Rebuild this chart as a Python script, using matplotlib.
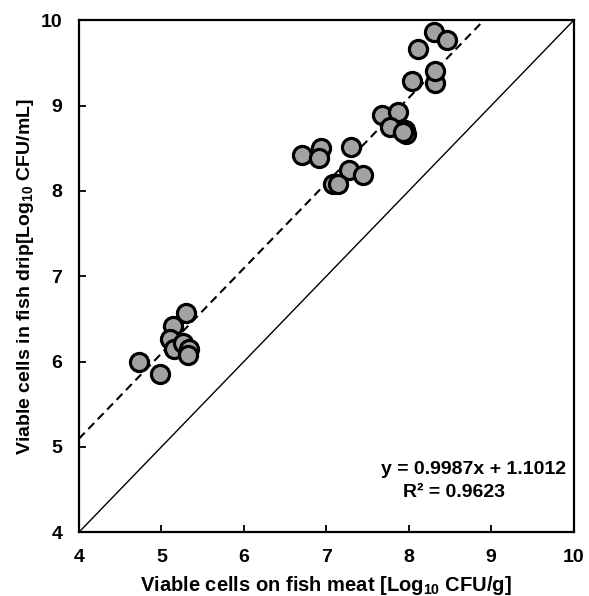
import numpy as np
import matplotlib.pyplot as plt

plt.rcParams['font.family'] = ['Liberation Sans', 'DejaVu Sans']
plt.rcParams['font.weight'] = 'bold'
plt.rcParams['mathtext.default'] = 'regular'

# meat counts (x) and drip counts (y), Log10 CFU
meat = [4.73, 4.98, 5.30, 5.14, 5.10, 5.15, 5.26, 5.34, 5.32,
        6.71, 6.94, 6.91, 7.30, 7.28, 7.44, 7.08, 7.14,
        7.67, 7.87, 7.77, 7.95, 7.97, 7.93,
        8.04, 8.32, 8.32, 8.31, 8.46, 8.11]
drip = [6.00, 5.85, 6.57, 6.42, 6.27, 6.15, 6.22, 6.15, 6.08,
        8.42, 8.50, 8.38, 8.51, 8.25, 8.19, 8.08, 8.08,
        8.89, 8.93, 8.75, 8.71, 8.67, 8.69,
        9.29, 9.26, 9.41, 9.86, 9.77, 9.66]

slope = 0.9987
intercept = 1.1012
r2 = 0.9623

fig = plt.figure(figsize=(5.89, 5.96), dpi=100)
ax = fig.add_axes([0.134, 0.107, 0.840, 0.859])

xx = np.array([4, (10 - intercept) / slope])
ax.plot(xx, slope * xx + intercept, 'k--', lw=1.5, dashes=(4, 2.5))
ax.plot([4, 10], [4, 10], 'k-', lw=1.0)
ax.scatter(meat, drip, s=170, c='#a2a2a2', edgecolors='black', linewidths=2.3, zorder=3)

ax.text(8.79, 4.73, 'y = 0.9987x + 1.1012', ha='center', va='center', fontsize=14, fontweight='bold')
ax.text(8.55, 4.46, 'R² = %.4f' % r2, ha='center', va='center', fontsize=14, fontweight='bold')

ax.set_xlim(4, 10)
ax.set_ylim(4, 10)
ax.set_xticks(range(4, 11))
ax.set_yticks(range(4, 11))
ax.tick_params(direction='in', length=5, width=1.3, labelsize=14, pad=12)
for lab in ax.get_xticklabels() + ax.get_yticklabels():
    lab.set_fontweight('bold')
for sp in ax.spines.values():
    sp.set_linewidth(1.6)

ax.set_xlabel('Viable cells on fish meat [Log$_{10}$ CFU/g]', fontsize=14.5, fontweight='bold', labelpad=6)
ax.set_ylabel('Viable cells in fish drip[Log$_{10}$ CFU/mL]', fontsize=14, fontweight='bold', labelpad=3)

plt.savefig('out.png', dpi=100)
